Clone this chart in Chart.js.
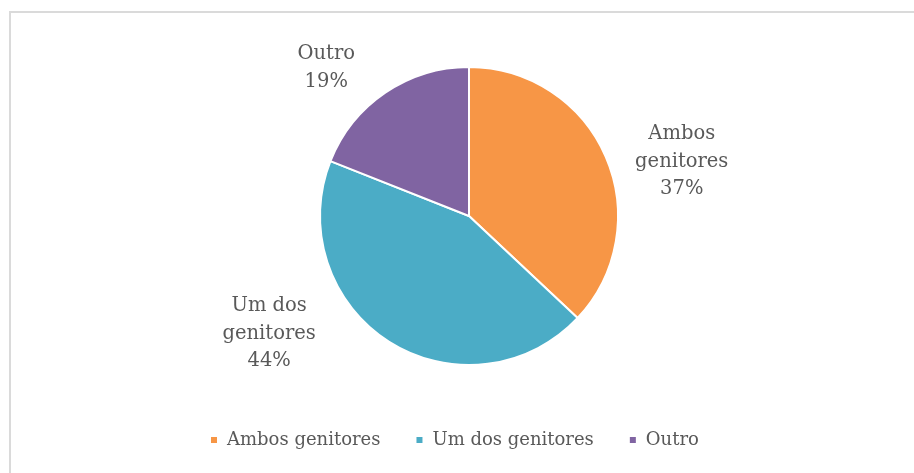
<!DOCTYPE html>
<html>
<head>
<meta charset="utf-8">
<script src="https://cdn.jsdelivr.net/npm/chart.js@4/dist/chart.umd.min.js"></script>
<style>
  html, body { margin: 0; padding: 0; background: #fff; }
  #wrap { position: relative; width: 914px; height: 473px; overflow: hidden; }
  #frame { position: absolute; left: 9px; top: 11px; width: 940px; height: 500px; border: 2px solid #dadada; box-sizing: border-box; }
  canvas { position: absolute; left: 0; top: 0; }
</style>
</head>
<body>
<div id="wrap">
  <div id="frame"></div>
  <canvas id="grafico" width="914" height="473"></canvas>
</div>
<script>
const categorias = ['Ambos genitores', 'Um dos genitores', 'Outro'];
const valores = [37, 44, 19];
const cores = ['#F79646', '#4BACC6', '#8064A2'];

// deslocamento de cada rótulo a partir da borda da fatia
const ajusteRotulos = [[76, 5], [-120, -8], [-59, -25]];

const fonteSerif = '"DejaVu Serif", "Liberation Serif", serif';
const corTexto = '#595959';

function quebrarNome(nome) {
    const partes = nome.split(' ');
    if (partes.length < 2) return [nome];
    return [partes.slice(0, -1).join(' '), partes[partes.length - 1]];
}

const rotulosPlugin = {
    id: 'rotulos',
    afterDatasetsDraw(chart) {
        const ctx = chart.ctx;
        const meta = chart.getDatasetMeta(0);
        const total = valores.reduce((a, b) => a + b, 0);
        ctx.save();
        ctx.font = '19.5px ' + fonteSerif;
        ctx.fillStyle = corTexto;
        ctx.textAlign = 'center';
        ctx.textBaseline = 'middle';
        meta.data.forEach((arc, i) => {
            const p = arc.getProps(['x', 'y', 'startAngle', 'endAngle', 'outerRadius'], true);
            const meio = (p.startAngle + p.endAngle) / 2;
            const bx = p.x + Math.cos(meio) * p.outerRadius + ajusteRotulos[i][0];
            const by = p.y + Math.sin(meio) * p.outerRadius + ajusteRotulos[i][1];
            const linhas = quebrarNome(categorias[i]);
            linhas.push(Math.round(valores[i] / total * 100) + '%');
            const alturaLinha = 27.5;
            const inicio = by - (linhas.length - 1) * alturaLinha / 2;
            linhas.forEach((l, k) => ctx.fillText(l, bx, inicio + k * alturaLinha));
        });
        ctx.restore();
    }
};

new Chart(document.getElementById('grafico'), {
    type: 'pie',
    data: {
        labels: categorias,
        datasets: [{
            data: valores,
            backgroundColor: cores,
            borderColor: '#ffffff',
            borderWidth: 2,
            radius: 149
        }]
    },
    options: {
        responsive: false,
        animation: false,
        layout: { padding: { top: 36, bottom: 14, left: 175, right: 151 } },
        plugins: {
            tooltip: { enabled: false },
            legend: {
                position: 'bottom',
                align: 'start',
                labels: {
                    boxWidth: 8,
                    boxHeight: 8,
                    padding: 35,
                    color: corTexto,
                    font: { family: fonteSerif, size: 18 }
                }
            }
        }
    },
    plugins: [rotulosPlugin]
});
</script>
</body>
</html>
